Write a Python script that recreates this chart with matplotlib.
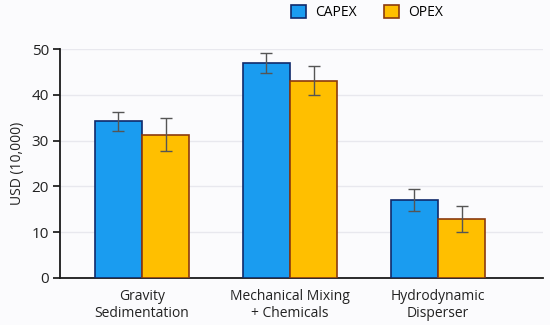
import numpy as np
import matplotlib
matplotlib.use("Agg")
import matplotlib.pyplot as plt

# Data
categories = ["Gravity\nSedimentation", "Mechanical Mixing\n+ Chemicals", "Hydrodynamic\nDisperser"]
capex = [34.2, 47.0, 17.0]
capex_err = [2.0, 2.2, 2.4]
opex = [31.3, 43.1, 12.9]
opex_err = [3.6, 3.2, 2.8]
y_ticks = [0, 10, 20, 30, 40, 50]

plt.rcParams['font.family'] = ['Open Sans', 'DejaVu Sans']

bg = '#fbfbfd'
fig = plt.figure(figsize=(5.5, 3.25), dpi=100, facecolor=bg)
ax = fig.add_axes([0.109, 0.145, 0.878, 0.704], facecolor=bg)

x = np.arange(len(categories))
w = 0.32
err_style = dict(ecolor='#555555', elinewidth=1, capsize=4, capthick=1)

ax.bar(x - w / 2, capex, w, yerr=capex_err, color='#1a9cf0', edgecolor='#102a6b',
       linewidth=1.2, label='CAPEX', error_kw=err_style, zorder=3)
ax.bar(x + w / 2, opex, w, yerr=opex_err, color='#ffbf00', edgecolor='#8b3a0f',
       linewidth=1.2, label='OPEX', error_kw=err_style, zorder=3)

ax.set_xlim(-0.555, 2.71)
ax.set_ylim(0, 50)
ax.set_yticks(y_ticks)
ax.set_xticks(x)
ax.set_xticklabels(categories, fontsize=10, color='#222222', linespacing=1.2)
ax.tick_params(axis='x', length=0, pad=8)
ax.tick_params(axis='y', labelsize=11, colors='#222222', length=5, width=1.3, pad=3)
ax.set_ylabel('USD (10,000)', fontsize=10, color='#222222', labelpad=5)

ax.grid(axis='y', color='#e8e8ee', linewidth=1, zorder=0)
for s in ['top', 'right']:
    ax.spines[s].set_visible(False)
for s in ['left', 'bottom']:
    ax.spines[s].set_linewidth(1.3)
    ax.spines[s].set_color('#1a1a1a')

fig.legend(loc='center', bbox_to_anchor=(0.667, 0.962), ncol=2, frameon=False,
           fontsize=10, handlelength=1.1, handleheight=1.1, columnspacing=2.0,
           handletextpad=0.6)

fig.savefig('out.png', dpi=100, facecolor=bg)
